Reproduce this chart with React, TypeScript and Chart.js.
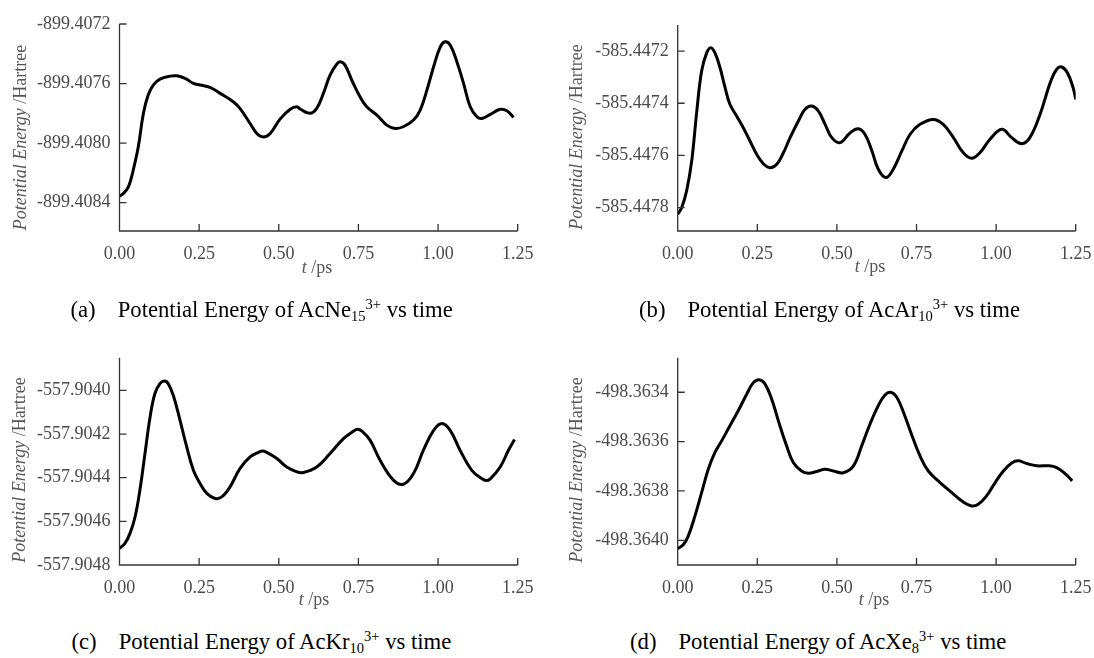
import React, { useEffect, useRef } from "react";
import { Chart, registerables } from "chart.js";

Chart.register(...registerables);

// ---------------- data ----------------
const xTicks = [0, 0.25, 0.5, 0.75, 1.0, 1.25];

// (a) AcNe15 3+
const tA = [0, 0.012, 0.028, 0.043, 0.059, 0.075, 0.09, 0.106, 0.127, 0.159, 0.18, 0.206, 0.232, 0.253, 0.284, 0.316, 0.357, 0.378, 0.41, 0.431, 0.452, 0.473, 0.504, 0.536, 0.557, 0.567, 0.598, 0.619, 0.64, 0.661, 0.682, 0.693, 0.708, 0.729, 0.755, 0.776, 0.808, 0.839, 0.865, 0.891, 0.923, 0.944, 0.965, 0.986, 1.007, 1.022, 1.038, 1.059, 1.08, 1.101, 1.122, 1.138, 1.164, 1.195, 1.216, 1.237];
const eA = [-899.408356, -899.408338, -899.408294, -899.408182, -899.408025, -899.4078, -899.407677, -899.40761, -899.40757, -899.40755, -899.407548, -899.407565, -899.407599, -899.40761, -899.407626, -899.407666, -899.407722, -899.407767, -899.407868, -899.407935, -899.407958, -899.407935, -899.407839, -899.407773, -899.407756, -899.407771, -899.4078, -899.407767, -899.407666, -899.407543, -899.407469, -899.407453, -899.407476, -899.407576, -899.407689, -899.407756, -899.407812, -899.407879, -899.407901, -899.40789, -899.407845, -899.407778, -899.407644, -899.407487, -899.407353, -899.407319, -899.407341, -899.407453, -899.407599, -899.407756, -899.407823, -899.407834, -899.407807, -899.407773, -899.407783, -899.407827];
const yTicksA = [-899.4072, -899.4076, -899.408, -899.4084];

// (b) AcAr10 3+
const tB = [0, 0.0126, 0.028, 0.044, 0.06, 0.075, 0.091, 0.104, 0.117, 0.133, 0.149, 0.164, 0.185, 0.206, 0.227, 0.248, 0.269, 0.29, 0.311, 0.332, 0.353, 0.379, 0.4, 0.421, 0.442, 0.463, 0.484, 0.51, 0.542, 0.567, 0.588, 0.61, 0.63, 0.654, 0.677, 0.704, 0.73, 0.761, 0.803, 0.834, 0.866, 0.897, 0.923, 0.949, 0.981, 1.018, 1.049, 1.08, 1.106, 1.138, 1.17, 1.19, 1.206, 1.224, 1.242, 1.25];
const eB = [-585.447826, -585.4478, -585.447736, -585.447621, -585.44743, -585.447277, -585.447207, -585.447187, -585.447207, -585.447264, -585.447341, -585.447404, -585.447449, -585.447494, -585.447545, -585.447596, -585.447632, -585.447647, -585.447634, -585.44759, -585.447532, -585.447468, -585.447423, -585.447411, -585.44743, -585.447481, -585.447532, -585.447551, -585.447513, -585.447498, -585.447519, -585.447583, -585.447653, -585.447685, -585.447653, -585.447583, -585.447519, -585.447481, -585.447462, -585.447481, -585.447532, -585.44759, -585.447611, -585.44759, -585.447538, -585.4475, -585.447532, -585.447555, -585.447532, -585.447443, -585.447321, -585.44727, -585.447261, -585.447283, -585.447341, -585.447385];
const yTicksB = [-585.4472, -585.4474, -585.4476, -585.4478];

// (c) AcKr10 3+
const tC = [0, 0.017, 0.033, 0.049, 0.064, 0.08, 0.096, 0.111, 0.127, 0.141, 0.153, 0.169, 0.19, 0.211, 0.232, 0.253, 0.274, 0.3, 0.321, 0.347, 0.378, 0.41, 0.436, 0.449, 0.462, 0.494, 0.525, 0.557, 0.577, 0.619, 0.661, 0.703, 0.734, 0.747, 0.761, 0.787, 0.818, 0.86, 0.891, 0.923, 0.954, 0.986, 1.012, 1.038, 1.069, 1.106, 1.138, 1.151, 1.164, 1.195, 1.221, 1.24];
const eC = [-557.904724, -557.904701, -557.904655, -557.904579, -557.904457, -557.904289, -557.904122, -557.904015, -557.903969, -557.903957, -557.903969, -557.904023, -557.904137, -557.904259, -557.904366, -557.904427, -557.904472, -557.904495, -557.904488, -557.904442, -557.904358, -557.904305, -557.904284, -557.904278, -557.904284, -557.904312, -557.904351, -557.904373, -557.904376, -557.904351, -557.904289, -557.904221, -557.904187, -557.904178, -557.904187, -557.904229, -557.90432, -557.904411, -557.90443, -557.904381, -557.904274, -557.904183, -557.904152, -557.904183, -557.904274, -557.904366, -557.904405, -557.904413, -557.904405, -557.904351, -557.904274, -557.904225];
const yTicksC = [-557.904, -557.9042, -557.9044, -557.9046, -557.9048];

// (d) AcXe8 3+
const tD = [0, 0.018, 0.033, 0.054, 0.075, 0.096, 0.117, 0.138, 0.164, 0.19, 0.217, 0.237, 0.256, 0.274, 0.295, 0.321, 0.342, 0.363, 0.389, 0.41, 0.437, 0.463, 0.489, 0.52, 0.552, 0.578, 0.604, 0.63, 0.651, 0.669, 0.688, 0.709, 0.736, 0.761, 0.787, 0.824, 0.861, 0.897, 0.923, 0.944, 0.97, 0.997, 1.023, 1.049, 1.07, 1.096, 1.128, 1.164, 1.19, 1.216, 1.239];
const eD = [-498.364034, -498.364017, -498.363983, -498.363902, -498.363807, -498.363712, -498.363644, -498.363597, -498.363536, -498.363475, -498.363407, -498.363362, -498.363349, -498.363366, -498.363427, -498.363536, -498.363617, -498.363685, -498.363719, -498.363728, -498.363721, -498.363712, -498.363719, -498.363726, -498.363698, -498.363617, -498.363529, -498.363454, -498.363411, -498.3634, -498.36342, -498.363481, -498.363576, -498.363658, -498.363719, -498.363766, -498.363807, -498.363845, -498.363861, -498.363854, -498.36382, -498.363766, -498.363719, -498.363687, -498.363678, -498.363689, -498.363698, -498.363698, -498.363705, -498.363729, -498.363759];
const yTicksD = [-498.3634, -498.3636, -498.3638, -498.364];

// ---------------- layout ----------------
const SERIF = '"Liberation Serif", "Times New Roman", Times, serif';
const TICK_COLOR = "#4a4a4a";
const AXIS_COLOR = "#333333";

type PanelCfg = {
  t: number[]; e: number[]; yTicks: number[]; yMin: number; yMax: number;
  left: number; top: number; w: number; h: number;
  L: number; T: number; R: number; B: number;
  yTitleX: number; yTitleY: number; xTitleX: number; xTitleY: number;
};

const panels: PanelCfg[] = [
  { t: tA, e: eA, yTicks: yTicksA, yMin: -899.40859, yMax: -899.4072,
    left: 0, top: 0, w: 547, h: 290, L: 119.5, T: 24, R: 517.7, B: 231,
    yTitleX: 26, yTitleY: 137.5, xTitleX: 317, xTitleY: 272.5 },
  { t: tB, e: eB, yTicks: yTicksB, yMin: -585.44789, yMax: -585.4471,
    left: 547, top: 0, w: 547, h: 290, L: 130.7, T: 25, R: 528.7, B: 231,
    yTitleX: 35, yTitleY: 137, xTitleX: 323, xTitleY: 271.5 },
  { t: tC, e: eC, yTicks: yTicksC, yMin: -557.9048, yMax: -557.90385,
    left: 0, top: 320, w: 547, h: 295, L: 119.5, T: 37.7, R: 517.7, B: 245,
    yTitleX: 25, yTitleY: 150, xTitleX: 314, xTitleY: 285 },
  { t: tD, e: eD, yTicks: yTicksD, yMin: -498.3641, yMax: -498.36326,
    left: 547, top: 320, w: 547, h: 295, L: 130.7, T: 37.7, R: 528.7, B: 245,
    yTitleX: 35, yTitleY: 150, xTitleX: 327, xTitleY: 285 },
];

const captions = [
  { letter: "a", el: "AcNe", sub: "15", left: 70.5, baseline: 318 },
  { letter: "b", el: "AcAr", sub: "10", left: 639, baseline: 318 },
  { letter: "c", el: "AcKr", sub: "10", left: 71.5, baseline: 650 },
  { letter: "d", el: "AcXe", sub: "8", left: 630, baseline: 650 },
];

function drawMixed(ctx: CanvasRenderingContext2D, parts: { text: string; font: string }[], cx: number, cy: number, rotate: boolean) {
  ctx.save();
  ctx.translate(cx, cy);
  if (rotate) ctx.rotate(-Math.PI / 2);
  ctx.textAlign = "left";
  ctx.textBaseline = "alphabetic";
  let total = 0;
  const widths = parts.map((p) => {
    ctx.font = p.font;
    const w = ctx.measureText(p.text).width;
    total += w;
    return w;
  });
  let x = -total / 2;
  parts.forEach((p, i) => {
    ctx.font = p.font;
    ctx.fillText(p.text, x, 0);
    x += widths[i];
  });
  ctx.restore();
}

const decorPlugin = {
  id: "decor",
  afterDraw(chart: any, _args: any, opts: any) {
    const { ctx, chartArea: ca, scales } = chart;
    const xs = scales.x;
    const ys = scales.y;
    ctx.save();
    ctx.strokeStyle = AXIS_COLOR;
    ctx.lineWidth = 1.3;
    ctx.beginPath();
    ctx.moveTo(ca.left, ca.top);
    ctx.lineTo(ca.left, ca.bottom);
    ctx.lineTo(ca.right, ca.bottom);
    for (const v of xTicks) {
      if (v === 0) continue;
      const px = xs.getPixelForValue(v);
      ctx.moveTo(px, ca.bottom);
      ctx.lineTo(px, ca.bottom - 7);
    }
    for (const v of opts.yTicks) {
      const py = ys.getPixelForValue(v);
      ctx.moveTo(ca.left, py);
      ctx.lineTo(ca.left + 7, py);
    }
    ctx.stroke();
    ctx.fillStyle = "#555555";
    drawMixed(ctx, [
      { text: "Potential Energy", font: `italic 18px ${SERIF}` },
      { text: " /Hartree", font: `18px ${SERIF}` },
    ], opts.yTitleX, opts.yTitleY, true);
    drawMixed(ctx, [
      { text: "t", font: `italic 18px ${SERIF}` },
      { text: " /ps", font: `18px ${SERIF}` },
    ], opts.xTitleX, opts.xTitleY, false);
    ctx.restore();
  },
};

function Panel({ cfg }: { cfg: PanelCfg }) {
  const ref = useRef<HTMLCanvasElement>(null);
  useEffect(() => {
    if (!ref.current) return;
    const data = cfg.t.map((t, i) => ({ x: t, y: cfg.e[i] }));
    const chart = new Chart(ref.current, {
      type: "line",
      data: {
        datasets: [{
          data,
          borderColor: "#000000",
          borderWidth: 3,
          pointRadius: 0,
          fill: false,
          tension: 0.4,
        }],
      },
      options: {
        animation: false,
        responsive: false,
        maintainAspectRatio: false,
        layout: { padding: { left: 0, top: cfg.T, right: cfg.w - cfg.R, bottom: 0 } },
        plugins: {
          legend: { display: false },
          tooltip: { enabled: false },
          decor: { yTicks: cfg.yTicks, yTitleX: cfg.yTitleX, yTitleY: cfg.yTitleY, xTitleX: cfg.xTitleX, xTitleY: cfg.xTitleY },
        } as any,
        scales: {
          x: {
            type: "linear",
            min: 0,
            max: 1.25,
            grid: { display: false, drawTicks: false },
            border: { display: false },
            afterBuildTicks: (s: any) => { s.ticks = xTicks.map((v) => ({ value: v })); },
            afterFit: (s: any) => { s.height = cfg.h - cfg.B; s.paddingLeft = 0; s.paddingRight = 0; },
            ticks: {
              padding: 12,
              color: TICK_COLOR,
              font: { family: SERIF, size: 18 },
              autoSkip: false,
              maxRotation: 0,
              callback: (v: any) => Number(v).toFixed(2),
            },
          },
          y: {
            type: "linear",
            min: cfg.yMin,
            max: cfg.yMax,
            grid: { display: false, drawTicks: false },
            border: { display: false },
            afterBuildTicks: (s: any) => { s.ticks = cfg.yTicks.map((v) => ({ value: v })); },
            afterFit: (s: any) => { s.width = cfg.L; s.paddingTop = 0; s.paddingBottom = 0; },
            ticks: {
              padding: 9,
              color: TICK_COLOR,
              font: { family: SERIF, size: 18 },
              autoSkip: false,
              callback: (v: any) => Number(v).toFixed(4),
            },
          },
        },
      },
      plugins: [decorPlugin],
    } as any);
    return () => chart.destroy();
  }, []);
  return (
    <canvas
      ref={ref}
      width={cfg.w}
      height={cfg.h}
      style={{ position: "absolute", left: cfg.left, top: cfg.top, width: cfg.w, height: cfg.h }}
    />
  );
}

export default function App() {
  return (
    <div style={{ position: "absolute", left: 0, top: 0, width: 1094, height: 658, background: "#ffffff", overflow: "hidden" }}>
      {panels.map((p, i) => <Panel key={i} cfg={p} />)}
      {captions.map((c, i) => (
        <div
          key={"c" + i}
          style={{
            position: "absolute",
            left: c.left,
            top: c.baseline - 19,
            fontFamily: SERIF,
            fontSize: 22.7,
            lineHeight: "22.7px",
            whiteSpace: "nowrap",
            color: "#000",
          }}
        >
          {"(" + c.letter + ")"}
          <span style={{ marginLeft: 22 }}>{"Potential Energy of " + c.el}</span>
          <span style={{ fontSize: 14.5, position: "relative", top: 4 }}>{c.sub}</span>
          <span style={{ fontSize: 14.5, position: "relative", top: -8 }}>{"3+"}</span>
          {" vs time"}
        </div>
      ))}
    </div>
  );
}
